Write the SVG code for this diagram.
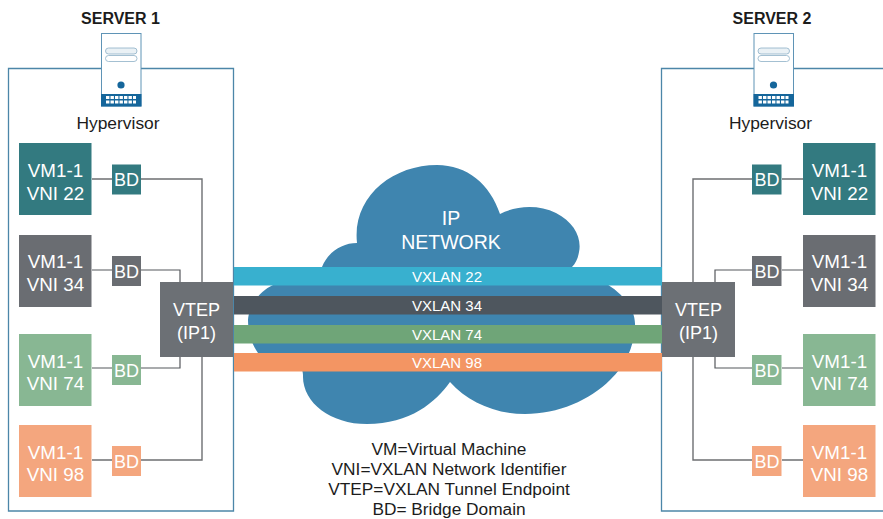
<svg xmlns="http://www.w3.org/2000/svg" width="883" height="519" viewBox="0 0 883 519">
<style>
text{font-family:"Liberation Sans",Arial,sans-serif;text-anchor:middle}
.lab{fill:#fff;font-size:18.800px}
.bd{fill:#fff;font-size:18px}
.vt{fill:#fff;font-size:18px}
.dk{fill:#1c1c1c;font-size:17.300px}
.ttl{fill:#1c1c1c;font-size:16px;font-weight:bold}
.hyp{fill:#1c1c1c;font-size:17.400px}
.vx{fill:#fff;font-size:15px}
.box{fill:none;stroke:#4c86a8;stroke-width:1.3}
.c{fill:none;stroke:#6d6f72;stroke-width:1.4}
.c2{fill:none;stroke:#55585c;stroke-width:1.2}
.teal{fill:#337a80}.gray{fill:#6a6d72}.green{fill:#88b793}.orange{fill:#f4a67e}
.vtep{fill:#6c7075}
</style>
<defs>
<g id="srv">
<rect x="0.5" y="0.5" width="39.5" height="72.5" fill="#fff" stroke="#5f94b6" stroke-width="1"/>
<rect x="0" y="61" width="40.5" height="12.5" fill="#15669b"/>
<rect x="4.500" y="15" width="31.500" height="6" rx="3" fill="#eaf1f5" stroke="#8db0c6" stroke-width=".8"/>
<rect x="4.500" y="22.500" width="31.500" height="6" rx="3" fill="#fff" stroke="#8db0c6" stroke-width=".8"/>
<circle cx="20" cy="52" r="3.600" fill="#15669b"/>
<path d="M5 64.500h30M5 69h30" stroke="#fff" stroke-width="3.200" stroke-dasharray="3.400 1.100" fill="none"/>
</g>
</defs>

<g id="cloud">
<path fill="#3f85af" d="M357 243C352 197 392 165 437 165C467 165 490 184 500 214C515 206 538 204 556 213C574 222 582 238 579 252C578 258 576 263 572 267L600 280C622 292 636 308 635 326C634 348 625 366 610 380C590 400 558 414 525 414C495 414 468 402 450 382C436 402 410 424 367 424C330 424 302 402 303 375C303 370 300 362 290 358L258 353C252 345 248 332 248 320C249 305 260 291 273 285L322 267C328 252 342 243 357 243Z"/>
</g>

<g id="server-box-1"><path class="box" d="M101 68.500H8.500V511H233.500V68.500H141"/></g>
<g id="server-box-2"><path class="box" d="M754 68.500H661.500V511H884M794 68.500H884"/></g>

<g id="connectors">
<path class="c" d="M92 179H112M141 179H202V282M202 357V460H141M112 460H92"/>
<path class="c2" d="M92 270H112M141 270H180V282M180 357V368H141M112 368H92"/>
<path class="c" d="M803 179H782M752 179H693V282M693 357V460H752M782 460H803"/>
<path class="c2" d="M803 270H782M752 270H715V282M715 357V368H752M782 368H803"/>
</g>

<g id="vxlan-22"><rect x="234" y="267" width="428" height="18.500" fill="#38b0cf"/><text class="vx" x="447" y="282">VXLAN 22</text></g>
<g id="vxlan-34"><rect x="234" y="296" width="428" height="18.500" fill="#4e565e"/><text class="vx" x="447" y="311">VXLAN 34</text></g>
<g id="vxlan-74"><rect x="234" y="325" width="428" height="18.500" fill="#6fa578"/><text class="vx" x="447" y="340">VXLAN 74</text></g>
<g id="vxlan-98"><rect x="234" y="353" width="428" height="18.500" fill="#f39563"/><text class="vx" x="447" y="368">VXLAN 98</text></g>

<g id="ip-network"><text fill="#fff" font-size="19.500" x="451" y="225">IP</text><text fill="#fff" font-size="19.500" x="451" y="249">NETWORK</text></g>

<g id="server1"><text class="ttl" x="120.500" y="23.500">SERVER 1</text><use href="#srv" x="101" y="33"/><text class="hyp" x="118" y="129">Hypervisor</text></g>
<g id="server2"><text class="ttl" x="772" y="23.500">SERVER 2</text><use href="#srv" x="753.500" y="33"/><text class="hyp" x="770.500" y="129">Hypervisor</text></g>

<g id="vm1-22"><rect class="teal" x="19" y="143" width="72.500" height="72"/><text class="lab" x="55.500" y="177">VM1-1</text><text class="lab" x="55.500" y="199.500">VNI 22</text></g>
<g id="bd1-22"><rect class="teal" x="112" y="164.500" width="29" height="30"/><text class="bd" x="126.500" y="186">BD</text></g>
<g id="vm1-34"><rect class="gray" x="19" y="235" width="72.500" height="72"/><text class="lab" x="55.500" y="268">VM1-1</text><text class="lab" x="55.500" y="290.500">VNI 34</text></g>
<g id="bd1-34"><rect class="gray" x="112" y="256" width="29" height="30"/><text class="bd" x="126.500" y="277.500">BD</text></g>
<g id="vm1-74"><rect class="green" x="19" y="334" width="72.500" height="72"/><text class="lab" x="55.500" y="367.500">VM1-1</text><text class="lab" x="55.500" y="390">VNI 74</text></g>
<g id="bd1-74"><rect class="green" x="112" y="355" width="29" height="30"/><text class="bd" x="126.500" y="376.500">BD</text></g>
<g id="vm1-98"><rect class="orange" x="19" y="425" width="72.500" height="72"/><text class="lab" x="55.500" y="458.500">VM1-1</text><text class="lab" x="55.500" y="481">VNI 98</text></g>
<g id="bd1-98"><rect class="orange" x="112" y="446" width="29" height="30"/><text class="bd" x="126.500" y="467.500">BD</text></g>
<g id="vtep1"><rect class="vtep" x="160" y="282" width="73" height="75"/><text class="vt" x="196.500" y="315.500">VTEP</text><text class="vt" x="196.500" y="338.500">(IP1)</text></g>

<g id="vm2-22"><rect class="teal" x="803" y="143" width="72.500" height="72"/><text class="lab" x="839.500" y="177">VM1-1</text><text class="lab" x="839.500" y="199.500">VNI 22</text></g>
<g id="bd2-22"><rect class="teal" x="752" y="164.500" width="29.500" height="30"/><text class="bd" x="767" y="186">BD</text></g>
<g id="vm2-34"><rect class="gray" x="803" y="235" width="72.500" height="72"/><text class="lab" x="839.500" y="268">VM1-1</text><text class="lab" x="839.500" y="290.500">VNI 34</text></g>
<g id="bd2-34"><rect class="gray" x="752" y="256" width="29.500" height="30"/><text class="bd" x="767" y="277.500">BD</text></g>
<g id="vm2-74"><rect class="green" x="803" y="334" width="72.500" height="72"/><text class="lab" x="839.500" y="367.500">VM1-1</text><text class="lab" x="839.500" y="390">VNI 74</text></g>
<g id="bd2-74"><rect class="green" x="752" y="355" width="29.500" height="30"/><text class="bd" x="767" y="376.500">BD</text></g>
<g id="vm2-98"><rect class="orange" x="803" y="425" width="72.500" height="72"/><text class="lab" x="839.500" y="458.500">VM1-1</text><text class="lab" x="839.500" y="481">VNI 98</text></g>
<g id="bd2-98"><rect class="orange" x="752" y="446" width="29.500" height="30"/><text class="bd" x="767" y="467.500">BD</text></g>
<g id="vtep2"><rect class="vtep" x="662" y="282" width="73" height="75"/><text class="vt" x="698.500" y="315.500">VTEP</text><text class="vt" x="698.500" y="338.500">(IP1)</text></g>

<g id="legend">
<text class="dk" x="449" y="455">VM=Virtual Machine</text>
<text class="dk" x="449" y="475">VNI=VXLAN Network Identifier</text>
<text class="dk" x="449" y="495">VTEP=VXLAN Tunnel Endpoint</text>
<text class="dk" x="449" y="515">BD= Bridge Domain</text>
</g>
</svg>
